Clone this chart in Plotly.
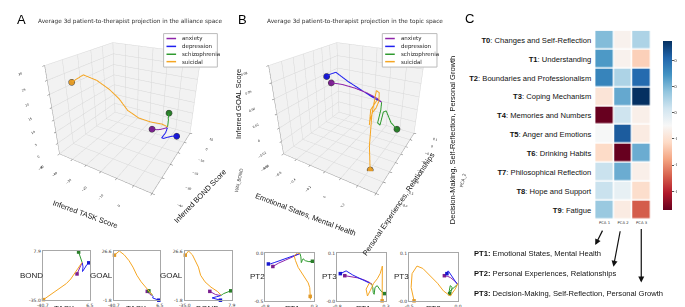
import plotly.graph_objects as go

W, H = 685, 307


def px(x):
    return x / W


def py(y):
    return 1 - y / H


# ---------------- data ----------------
conditions = ["anxiety", "depression", "schizophrenia", "suicidal"]

# Panel A: alliance space (TASK, BOND, GOAL); first point = start marker
A_task = {
    "anxiety": [-6.3, -5.0, -3.5, -2.0, -1.2],
    "depression": [5.5, 3.5, 1.5, 0.2, -0.8, -0.3, -1.0],
    "schizophrenia": [-4.7, -4.0, -3.3, -2.6, -2.0, -1.5, -1.2],
    "suicidal": [-40.0, -35.0, -30.0, -25.0, -21.0, -17.0, -12.6, -8.0, -3.7, -1.2],
}
A_bond = {
    "anxiety": [-12.1, -9.8, -7.0, -4.1, -2.2],
    "depression": [-2.4, -4.0, -7.0, -9.5, -10.0, -6.0, -2.3],
    "schizophrenia": [7.0, 5.0, 3.2, 2.0, 0.5, -0.8, -2.0],
    "suicidal": [-34.5, -31.5, -28.0, -25.0, -22.5, -20.5, -16.5, -11.0, -5.0, -2.0],
}
A_goal = {
    "anxiety": [3.3, 2.3, 1.5, 1.1, 0.9],
    "depression": [-1.8, -1.5, -1.1, -0.8, -0.5, 0.2, 0.8],
    "schizophrenia": [3.6, 3.2, 2.8, 2.6, 2.0, 1.4, 0.9],
    "suicidal": [24.2, 26.6, 24.4, 21.0, 17.3, 12.6, 8.8, 5.7, 3.2, 1.2],
}

# Panel B: topic space (PT1, PT2, PT3); first point = start marker
B_pt1 = {
    "anxiety": [-0.63, -0.5, -0.35, -0.2, -0.08, -0.02],
    "depression": [-0.73, -0.68, -0.6, -0.45, -0.3, -0.15, -0.02],
    "schizophrenia": [0.26, 0.18, 0.1, 0.05, 0.03, 0.01, 0.0, -0.02],
    "suicidal": [0.21, 0.215, 0.22, 0.215, 0.2, 0.165, 0.1, 0.02, -0.06, -0.12, -0.15, -0.08, -0.02],
}
B_pt2 = {
    "anxiety": [-0.14, -0.105, -0.075, -0.045, -0.02, -0.005],
    "depression": [-0.114, -0.112, -0.1, -0.075, -0.05, -0.025, -0.005],
    "schizophrenia": [-0.086, -0.09, -0.08, -0.06, -0.08, -0.1, -0.04, -0.005],
    "suicidal": [-0.45, -0.48, -0.47, -0.42, -0.36, -0.31, -0.26, -0.21, -0.15, -0.08, -0.03, 0.0, -0.005],
}
B_pt3 = {
    "anxiety": [0.034, 0.032, 0.028, 0.022, 0.015, 0.009],
    "depression": [0.040, 0.044, 0.048, 0.036, 0.026, 0.016, 0.009],
    "schizophrenia": [-0.018, -0.01, 0.005, 0.0, -0.02, -0.015, 0.0, 0.009],
    "suicidal": [-0.039, 0.0, 0.04, 0.062, 0.055, 0.04, 0.025, 0.012, -0.01, -0.025, -0.005, 0.012, 0.009],
}

# Panel C: topic loadings on the three principal topics
topic_ids = ["T0", "T1", "T2", "T3", "T4", "T5", "T6", "T7", "T8", "T9"]
topic_names = ["Changes and Self-Reflection", "Understanding", "Boundaries and Professionalism",
               "Coping Mechanism", "Memories and Numbers", "Anger and Emotions", "Drinking Habits",
               "Philosophical Reflection", "Hope and Support", "Fatigue"]
pca_labels = ["PCA 1", "PCA 2", "PCA 3"]
pca1 = [0.19, 0.28, 0.34, -0.18, -0.742, -0.09, -0.22, 0.05, 0.05, 0.15]
pca2 = [-0.12, -0.12, 0.11, 0.24, 0.04, 0.45, -0.742, 0.23, -0.04, -0.15]
pca3 = [0.11, -0.25, 0.41, 0.555, -0.13, -0.15, 0.23, -0.13, -0.21, -0.49]
cbar_ticks = [-0.6, -0.4, -0.2, 0.0, 0.2, 0.4]

pt_names = ["Emotional States, Mental Health", "Personal Experiences, Relationships",
            "Decision-Making, Self-Reflection, Personal Growth"]

# ---------------- styles ----------------
LINE_COL = {"anxiety": "#8e24aa", "depression": "#1f1ff0",
            "schizophrenia": "#2f9a2f", "suicidal": "#f5a623"}
MARK_COL = {"anxiety": "#7b1f8f", "depression": "#1818d0",
            "schizophrenia": "#2a7d2a", "suicidal": "#e09a2a"}
SANS = "Liberation Sans, Arial, sans-serif"
DV = "DejaVu Sans, sans-serif"

fig = go.Figure()

# ---------------- 3D scenes ----------------
for scene, X, Y, Z in [("scene", A_task, A_bond, A_goal), ("scene2", B_pt1, B_pt2, B_pt3)]:
    for c in conditions:
        fig.add_trace(go.Scatter3d(x=X[c], y=Y[c], z=Z[c], mode="lines",
                                   line=dict(color=LINE_COL[c], width=2),
                                   scene=scene, showlegend=False, hoverinfo="skip"))
        fig.add_trace(go.Scatter3d(x=X[c][:1], y=Y[c][:1], z=Z[c][:1], mode="markers",
                                   marker=dict(color=MARK_COL[c], size=3.6,
                                               line=dict(color="#444", width=0.5)),
                                   scene=scene, showlegend=False, hoverinfo="skip"))


def ax3d(title, rng, dtick):
    return dict(title=dict(text=title, font=dict(size=4.5, family=DV, color="#444")),
                range=rng, dtick=dtick, backgroundcolor="rgb(242,242,242)", showbackground=True,
                gridcolor="rgb(215,215,215)", gridwidth=1, zeroline=False, showspikes=False,
                linecolor="#999", showline=True, ticks="outside", ticklen=2, tickcolor="#666",
                tickfont=dict(size=6, family=DV, color="#222"))


cam = dict(eye=dict(x=0.78, y=-1.35, z=0.78), up=dict(x=0, y=0, z=1), center=dict(x=0, y=0, z=-0.03))
asp = dict(x=0.76, y=0.76, z=0.68)
fig.update_layout(
    scene=dict(domain=dict(x=[0.0, 0.35], y=[py(200), 1.0]),
               xaxis=ax3d("WAI_TASK", [-50, 10], 10),
               yaxis=ax3d("WAI_BOND", [-40, 10], 10),
               zaxis=ax3d("WAI_GOAL", [-5, 30], 5),
               aspectmode="manual", aspectratio=asp,
               camera=cam, bgcolor="rgba(0,0,0,0)"),
    scene2=dict(domain=dict(x=[0.341, 0.691], y=[py(200), 1.0]),
                xaxis=ax3d("PCA_1", [-0.8, 0.4], 0.2),
                yaxis=ax3d("PCA_2", [-0.6, 0.1], 0.1),
                zaxis=ax3d("PCA_3", [-0.04, 0.08], 0.02),
                aspectmode="manual", aspectratio=asp,
                camera=cam, bgcolor="rgba(0,0,0,0)"),
)

# ---------------- small 2D projections ----------------
small = [
    # (xdata, ydata, xrange, yrange, xbox, ybox, xlabel, ylabel, xlabpos, ylabpos)
    (A_task, A_bond, [-40.7, 6.5], [-35.0, 7.9], (30, 79), (245, 295), "TASK", "BOND", (53, 303), (18, 270)),
    (A_task, A_goal, [-40.7, 6.5], [-1.8, 26.6], (104, 152), (245, 295), "TASK", "GOAL", (128, 303), (91, 270)),
    (A_bond, A_goal, [-35.0, 7.9], [-1.8, 26.6], (178, 227), (245, 295), "BOND", "GOAL", (202, 303), (164, 270)),
    (B_pt1, B_pt2, [-0.8, 0.3], [-0.5, 0.0], (262, 313), (247, 296), "PT1", "PT2", (290, 303), (254, 271)),
    (B_pt1, B_pt3, [-0.8, 0.3], [-0.04, 0.1], (337, 388), (247, 296), "PT1", "PT3", (364, 303), (329, 271)),
    (B_pt2, B_pt3, [-0.5, 0.0], [-0.04, 0.1], (412, 463), (247, 296), "PT2", "PT3", (437, 303), (404, 271)),
]

annotations = []
for i, (X, Y, xr, yr, xb, yb, xl, yl, xlp, ylp) in enumerate(small, start=1):
    xa = "x" if i == 1 else f"x{i}"
    ya = "y" if i == 1 else f"y{i}"
    for c in conditions:
        fig.add_trace(go.Scatter(x=X[c], y=Y[c], mode="lines", line=dict(color=LINE_COL[c], width=1),
                                 xaxis=xa, yaxis=ya, showlegend=False, hoverinfo="skip", cliponaxis=False))
        fig.add_trace(go.Scatter(x=X[c][:1], y=Y[c][:1], mode="markers",
                                 marker=dict(color=MARK_COL[c], size=3.5, symbol="square"),
                                 xaxis=xa, yaxis=ya, showlegend=False, hoverinfo="skip", cliponaxis=False))
    common = dict(showgrid=False, zeroline=False, showline=True, linecolor="#a8a8a8", linewidth=1.2,
                  mirror=True, ticks="", tickfont=dict(size=4.5, family=DV, color="#333"), fixedrange=True)
    fig.update_layout({
        ("xaxis" if i == 1 else f"xaxis{i}"): dict(domain=[px(xb[0]), px(xb[1])], range=xr, tickvals=xr,
                                                    ticktext=[f"{v:.1f}" for v in xr], anchor=ya, **common),
        ("yaxis" if i == 1 else f"yaxis{i}"): dict(domain=[py(yb[1]), py(yb[0])], range=yr, tickvals=yr,
                                                    ticktext=[f"{v:.1f}" for v in yr], anchor=xa, **common),
    })
    annotations.append(dict(text=xl, x=px(xlp[0]), y=py(xlp[1]), xref="paper", yref="paper",
                            xanchor="center", yanchor="middle",
                            showarrow=False, font=dict(size=8, family=SANS, color="#222")))
    annotations.append(dict(text=yl, x=px(ylp[0]), y=py(ylp[1]), xref="paper", yref="paper",
                            xanchor="center", yanchor="middle",
                            showarrow=False, font=dict(size=8, family=SANS, color="#222")))

# ---------------- heatmap ----------------
rdbu = ["#67001f", "#b2182b", "#d6604d", "#f4a582", "#fddbc7", "#f7f7f7",
        "#d1e5f0", "#92c5de", "#4393c3", "#2166ac", "#053061"]
cscale = [[k / 10, col] for k, col in enumerate(rdbu)]
zvals = [[a, b, c] for a, b, c in zip(pca1, pca2, pca3)]
ytext = [f"<b>{t}</b>: {n}" for t, n in zip(topic_ids, topic_names)]
fig.add_trace(go.Heatmap(z=zvals, x=pca_labels, y=ytext, colorscale=cscale,
                         zmin=min(pca1 + pca2 + pca3), zmax=max(pca1 + pca2 + pca3),
                         xgap=1.5, ygap=1.5, xaxis="x7", yaxis="y7", hoverinfo="skip",
                         colorbar=dict(x=px(666), xanchor="left", y=py(117), yanchor="middle",
                                       len=192 / H, lenmode="fraction", thickness=9, outlinewidth=0,
                                       tickvals=cbar_ticks, ticktext=[f"{v:.1f}" for v in cbar_ticks],
                                       ticks="outside", ticklen=2, tickcolor="#555",
                                       tickfont=dict(size=4, family=DV, color="#333"))))
fig.update_layout(
    xaxis7=dict(domain=[px(606), px(664)], anchor="y7", showgrid=False, zeroline=False, ticks="",
                tickfont=dict(size=3.8, family=DV, color="#333"), fixedrange=True),
    yaxis7=dict(domain=[py(213), py(21)], anchor="x7", autorange="reversed", showgrid=False,
                zeroline=False, ticks="", ticklabelstandoff=3,
                tickfont=dict(size=7.6, family=SANS, color="#111"), fixedrange=True),
)

# ---------------- legends (drawn) ----------------
shapes = []
for x0, x1 in [(156, 212), (384, 441)]:
    shapes.append(dict(type="rect", xref="paper", yref="paper", x0=px(x0), x1=px(x1), y0=py(58), y1=py(24),
                       line=dict(color="#bbbbbb", width=1), fillcolor="white", layer="above"))
for lx in [159, 387]:
    for c, yy in zip(conditions, [29, 37, 45, 52.5]):
        shapes.append(dict(type="line", xref="paper", yref="paper", x0=px(lx), x1=px(lx + 10),
                           y0=py(yy), y1=py(yy), line=dict(color=LINE_COL[c], width=1.5), layer="above"))
        annotations.append(dict(text=c, x=px(lx + 14), y=py(yy), xref="paper", yref="paper", xanchor="left",
                                yanchor="middle", showarrow=False, font=dict(size=5.5, family=DV, color="#222")))

# ---------------- texts ----------------
texts = [
    ("A", 8, 10, 13, 0, SANS, "#000"),
    ("B", 238, 10, 13, 0, SANS, "#000"),
    ("C", 475, 9, 13, 0, SANS, "#000"),
    ("Average 3d patient-to-therapist projection in the alliance space", 121, 12, 5.8, 0, DV, "#333"),
    ("Average 3d patient-to-therapist projection in the topic space", 356, 12, 5.8, 0, DV, "#333"),
    ("Inferred TASK Score", 75, 208, 7.5, 20, SANS, "#111"),
    ("Inferred BOND Score", 194, 190, 7.5, -46, SANS, "#111"),
    ("Inferred GOAL Score", 234, 95, 7.5, -90, SANS, "#111"),
    (pt_names[0], 304, 208, 7.5, 21, SANS, "#111"),
    (pt_names[1], 401, 198, 7.5, -56, SANS, "#111"),
    (pt_names[2], 458, 132, 7.5, -90, SANS, "#111"),
]
for t, x, y, s, ang, fam, col in texts:
    annotations.append(dict(text=t, x=px(x), y=py(y), xref="paper", yref="paper", showarrow=False,
                            xanchor="center", yanchor="middle",
                            textangle=ang, font=dict(size=s, family=fam, color=col)))

for k, (t, yy) in enumerate(zip(pt_names, [248, 268, 288])):
    annotations.append(dict(text=f"<b>PT{k + 1}:</b> {t}", x=px(477), y=py(yy), xref="paper", yref="paper",
                            xanchor="left", yanchor="middle", showarrow=False,
                            font=dict(size=7.6, family=SANS, color="#111")))

# arrows from heatmap columns to PT definitions
for (hx, hy), (tx, ty) in [((606, 239), (614, 223)), ((625, 261), (632, 224)), ((654, 277), (654, 222))]:
    annotations.append(dict(text="", x=px(hx), y=py(hy), xref="paper", yref="paper", ax=tx - hx, ay=ty - hy,
                            axref="pixel", ayref="pixel", showarrow=True, arrowhead=2, arrowsize=1,
                            arrowwidth=1.2, arrowcolor="#111"))

fig.update_layout(width=W, height=H, margin=dict(l=0, r=0, t=0, b=0), paper_bgcolor="white",
                  plot_bgcolor="white", showlegend=False, hovermode=False,
                  annotations=annotations, shapes=shapes)

fig.write_html("out.html", config={"displayModeBar": False})
